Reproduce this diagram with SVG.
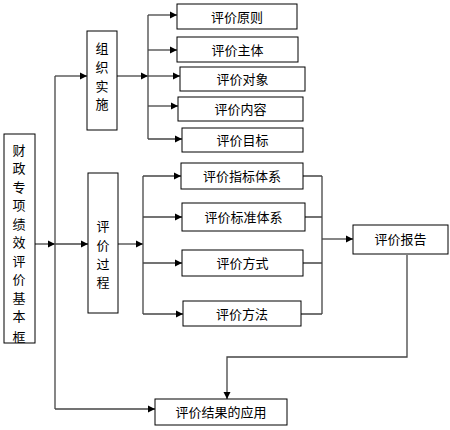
<svg xmlns="http://www.w3.org/2000/svg" width="450" height="430" viewBox="0 0 450 430">
<style>
.box{fill:#fff;stroke:#000;stroke-width:1}
.t{font-family:"Liberation Sans","Noto Sans CJK SC",sans-serif;font-size:13px;fill:#000;text-anchor:middle;dominant-baseline:central}
.c{fill:none;stroke:#444;stroke-width:1.3}
.a{marker-end:url(#arr)}
</style>
<defs>
<marker id="arr" markerUnits="userSpaceOnUse" markerWidth="8" markerHeight="8" refX="7" refY="4" orient="auto">
<path d="M0,0.5 L7,4 L0,7.5 z" fill="#000"/>
</marker>
<clipPath id="mainclip"><rect x="4" y="134" width="31" height="209"/></clipPath>
</defs>
<rect width="450" height="430" fill="#fff"/>
<g id="connectors">
<path class="c a" d="M35,244 H55"/>
<path class="c" d="M55,76 V409"/>
<path class="c a" d="M55,76 H87"/>
<path class="c a" d="M55,244 H88"/>
<path class="c a" d="M55,409 H155"/>
<path class="c a" d="M117,76 H148"/>
<path class="c" d="M148,15 V139"/>
<path class="c a" d="M148,15 H177"/>
<path class="c a" d="M148,50 H177"/>
<path class="c a" d="M148,76 H180"/>
<path class="c a" d="M148,106 H178"/>
<path class="c a" d="M148,139 H182"/>
<path class="c a" d="M118,244 H143"/>
<path class="c" d="M143,176 V314"/>
<path class="c a" d="M143,176 H181"/>
<path class="c a" d="M143,217 H182"/>
<path class="c a" d="M143,263 H182"/>
<path class="c a" d="M143,314 H183"/>
<path class="c" d="M303,176 H322 M305,217 H322 M303,263 H322 M301,314 H322 M322,176 V314"/>
<path class="c a" d="M322,239 H353"/>
<path class="c a" d="M407,255 V357 H227 V399"/>
</g>
<g id="main">
<rect class="box" x="4" y="134" width="31" height="209"/>
<g clip-path="url(#mainclip)">
<text class="t" x="19" y="150">财</text>
<text class="t" x="19" y="168.5">政</text>
<text class="t" x="19" y="187">专</text>
<text class="t" x="19" y="205.5">项</text>
<text class="t" x="19" y="224">绩</text>
<text class="t" x="19" y="242.5">效</text>
<text class="t" x="19" y="261">评</text>
<text class="t" x="19" y="279.5">价</text>
<text class="t" x="19" y="298">基</text>
<text class="t" x="19" y="316.5">本</text>
<text class="t" x="19" y="337">框</text>
</g>
</g>
<g id="org">
<rect class="box" x="87" y="31" width="30" height="99"/>
<text class="t" x="102" y="48">组</text>
<text class="t" x="102" y="67">织</text>
<text class="t" x="102" y="86">实</text>
<text class="t" x="102" y="104">施</text>
</g>
<g id="proc">
<rect class="box" x="88" y="173" width="30" height="140"/>
<text class="t" x="103" y="226">评</text>
<text class="t" x="103" y="245">价</text>
<text class="t" x="103" y="264">过</text>
<text class="t" x="103" y="282">程</text>
</g>
<g id="n1"><rect class="box" x="177" y="4" width="120" height="25"/><text class="t" x="237" y="17">评价原则</text></g>
<g id="n2"><rect class="box" x="177" y="37" width="121" height="25"/><text class="t" x="237.5" y="50">评价主体</text></g>
<g id="n3"><rect class="box" x="180" y="67" width="125" height="24"/><text class="t" x="242.5" y="79.5">评价对象</text></g>
<g id="n4"><rect class="box" x="178" y="97" width="125" height="24"/><text class="t" x="240.5" y="109.5">评价内容</text></g>
<g id="n5"><rect class="box" x="182" y="128" width="121" height="24"/><text class="t" x="242.5" y="140.5">评价目标</text></g>
<g id="p1"><rect class="box" x="181" y="163" width="122" height="26"/><text class="t" x="242" y="176.5">评价指标体系</text></g>
<g id="p2"><rect class="box" x="182" y="203" width="123" height="28"/><text class="t" x="243.5" y="217.5">评价标准体系</text></g>
<g id="p3"><rect class="box" x="182" y="250" width="121" height="26"/><text class="t" x="242.5" y="263.5">评价方式</text></g>
<g id="p4"><rect class="box" x="183" y="301" width="118" height="25"/><text class="t" x="242" y="314">评价方法</text></g>
<g id="report"><rect class="box" x="353" y="225" width="95" height="29"/><text class="t" x="400.5" y="239.5">评价报告</text></g>
<g id="result"><rect class="box" x="155" y="399" width="132" height="26"/><text class="t" x="221" y="412.5">评价结果的应用</text></g>
</svg>
